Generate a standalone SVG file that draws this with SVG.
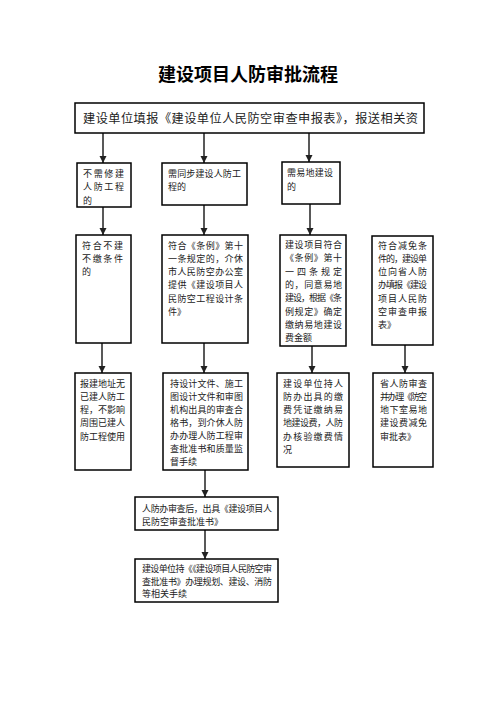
<svg xmlns="http://www.w3.org/2000/svg" width="496" height="702" viewBox="0 0 496 702">
<style>
.box{fill:#fff;stroke:#000;stroke-width:1.5}
.t{font-family:"Noto Sans CJK SC","Noto Sans",sans-serif;font-size:9px;fill:#222}
.big{font-family:"Noto Sans CJK SC","Noto Sans",sans-serif;font-size:12.2px;fill:#222}
.title{font-family:"Noto Sans CJK SC","Noto Sans",sans-serif;font-size:18px;font-weight:bold;fill:#000}
.ar{stroke:#222;stroke-width:1.5;fill:none;marker-end:url(#ah)}
</style>
<defs>
<marker id="ah" markerUnits="userSpaceOnUse" markerWidth="8" markerHeight="8" refX="7" refY="3.5" orient="auto">
<path d="M0,0 L7,3.5 L0,7 z" fill="#222"/>
</marker>
</defs>
<rect width="496" height="702" fill="#fff"/>
<text class="title" x="248" y="81" text-anchor="middle">建设项目人防审批流程</text>

<g id="connectors">
<line class="ar" x1="103" y1="133" x2="103" y2="163"/>
<line class="ar" x1="204" y1="133" x2="204" y2="163"/>
<line class="ar" x1="309" y1="133" x2="309" y2="162"/>
<line class="ar" x1="103" y1="207" x2="103" y2="235"/>
<line class="ar" x1="204" y1="205" x2="204" y2="235"/>
<line class="ar" x1="310" y1="204" x2="310" y2="235"/>
<line class="ar" x1="102" y1="343" x2="102" y2="373"/>
<line class="ar" x1="204" y1="343" x2="204" y2="373"/>
<line class="ar" x1="312" y1="346" x2="312" y2="373"/>
<line class="ar" x1="405" y1="345" x2="405" y2="373"/>
<line class="ar" x1="205" y1="470" x2="205" y2="497"/>
<line class="ar" x1="205" y1="530" x2="205" y2="559"/>
</g>

<g id="top">
<rect class="box" x="75" y="103" width="349" height="30"/>
<text class="big" x="83" y="122.5" textLength="335" lengthAdjust="spacing">建设单位填报《建设单位人民防空审查申报表》，报送相关资</text>
</g>

<g id="r2a">
<rect class="box" x="77" y="163" width="54" height="44"/>
<text class="t" x="83" y="176.5" textLength="41" lengthAdjust="spacing">不需修建</text>
<text class="t" x="83" y="190" textLength="41" lengthAdjust="spacing">人防工程</text>
<text class="t" x="83" y="203.5">的</text>
</g>
<g id="r2b">
<rect class="box" x="162" y="163" width="85" height="42"/>
<text class="t" x="168" y="176.5" textLength="73" lengthAdjust="spacing">需同步建设人防工</text>
<text class="t" x="168" y="190">程的</text>
</g>
<g id="r2c">
<rect class="box" x="282" y="162" width="58" height="42"/>
<text class="t" x="287" y="176" textLength="46" lengthAdjust="spacing">需易地建设</text>
<text class="t" x="287" y="189.5">的</text>
</g>

<g id="r3a">
<rect class="box" x="76" y="235" width="55" height="108"/>
<text class="t" x="82" y="248.5" textLength="41" lengthAdjust="spacing">符合不建</text>
<text class="t" x="82" y="261.8" textLength="41" lengthAdjust="spacing">不缴条件</text>
<text class="t" x="82" y="275.1">的</text>
</g>
<g id="r3b">
<rect class="box" x="162" y="235" width="86" height="108"/>
<text class="t" x="168" y="248.5" textLength="75" lengthAdjust="spacing">符合《条例》第十</text>
<text class="t" x="168" y="261.8" textLength="75" lengthAdjust="spacing">一条规定的，介休</text>
<text class="t" x="168" y="275.1" textLength="75" lengthAdjust="spacing">市人民防空办公室</text>
<text class="t" x="168" y="288.4" textLength="75" lengthAdjust="spacing">提供《建设项目人</text>
<text class="t" x="168" y="301.7" textLength="75" lengthAdjust="spacing">民防空工程设计条</text>
<text class="t" x="168" y="315">件》</text>
</g>
<g id="r3c">
<rect class="box" x="280" y="235" width="66" height="111"/>
<text class="t" x="285" y="248" textLength="57" lengthAdjust="spacing">建设项目符合</text>
<text class="t" x="285" y="261.3" textLength="57" lengthAdjust="spacing">《条例》第十</text>
<text class="t" x="285" y="274.6" textLength="57" lengthAdjust="spacing">一四条规定</text>
<text class="t" x="285" y="287.9" textLength="57" lengthAdjust="spacing">的，同意易地</text>
<text class="t" x="285" y="301.2" textLength="57" lengthAdjust="spacing">建设，根据《条</text>
<text class="t" x="285" y="314.5" textLength="57" lengthAdjust="spacing">例规定》确定</text>
<text class="t" x="285" y="327.8" textLength="57" lengthAdjust="spacing">缴纳易地建设</text>
<text class="t" x="285" y="341.1">费金额</text>
</g>
<g id="r3d">
<rect class="box" x="372" y="236" width="61" height="109"/>
<text class="t" x="378" y="248.5" textLength="49" lengthAdjust="spacing">符合减免条</text>
<text class="t" x="378" y="261.8" textLength="49" lengthAdjust="spacing">件的，建设单</text>
<text class="t" x="378" y="275.1" textLength="49" lengthAdjust="spacing">位向省人防</text>
<text class="t" x="378" y="288.4" textLength="49" lengthAdjust="spacing">办填报《建设</text>
<text class="t" x="378" y="301.7" textLength="49" lengthAdjust="spacing">项目人民防</text>
<text class="t" x="378" y="315" textLength="49" lengthAdjust="spacing">空审查申报</text>
<text class="t" x="378" y="328.3">表》</text>
</g>

<g id="r4a">
<rect class="box" x="75" y="373" width="56" height="97"/>
<text class="t" x="80" y="386.5" textLength="45" lengthAdjust="spacing">报建地址无</text>
<text class="t" x="80" y="399.8" textLength="45" lengthAdjust="spacing">已建人防工</text>
<text class="t" x="80" y="413.1" textLength="45" lengthAdjust="spacing">程，不影响</text>
<text class="t" x="80" y="426.4" textLength="45" lengthAdjust="spacing">周围已建人</text>
<text class="t" x="80" y="439.7" textLength="45" lengthAdjust="spacing">防工程使用</text>
</g>
<g id="r4b">
<rect class="box" x="163" y="373" width="85" height="97"/>
<text class="t" x="170" y="386.5" textLength="73" lengthAdjust="spacing">持设计文件、施工</text>
<text class="t" x="170" y="399.6" textLength="73" lengthAdjust="spacing">图设计文件和审图</text>
<text class="t" x="170" y="412.7" textLength="73" lengthAdjust="spacing">机构出具的审查合</text>
<text class="t" x="170" y="425.8" textLength="73" lengthAdjust="spacing">格书，到介休人防</text>
<text class="t" x="170" y="438.9" textLength="73" lengthAdjust="spacing">办办理人防工程审</text>
<text class="t" x="170" y="452" textLength="73" lengthAdjust="spacing">查批准书和质量监</text>
<text class="t" x="170" y="465.1">督手续</text>
</g>
<g id="r4c">
<rect class="box" x="277" y="373" width="72" height="94"/>
<text class="t" x="283" y="386.5" textLength="60" lengthAdjust="spacing">建设单位持人</text>
<text class="t" x="283" y="399.8" textLength="60" lengthAdjust="spacing">防办出具的缴</text>
<text class="t" x="283" y="413.1" textLength="60" lengthAdjust="spacing">费凭证缴纳易</text>
<text class="t" x="283" y="426.4" textLength="60" lengthAdjust="spacing">地建设费，人防</text>
<text class="t" x="283" y="439.7" textLength="60" lengthAdjust="spacing">办核验缴费情</text>
<text class="t" x="283" y="453">况</text>
</g>
<g id="r4d">
<rect class="box" x="373" y="373" width="60" height="94"/>
<text class="t" x="380" y="386.5" textLength="47" lengthAdjust="spacing">省人防审查</text>
<text class="t" x="380" y="399.8" textLength="47" lengthAdjust="spacing">并办理《防空</text>
<text class="t" x="380" y="413.1" textLength="47" lengthAdjust="spacing">地下室易地</text>
<text class="t" x="380" y="426.4" textLength="47" lengthAdjust="spacing">建设费减免</text>
<text class="t" x="380" y="439.7">审批表》</text>
</g>

<g id="e">
<rect class="box" x="135" y="497" width="143" height="33"/>
<text class="t" x="142" y="511.5" textLength="130" lengthAdjust="spacing">人防办审查后，出具《建设项目人</text>
<text class="t" x="142" y="524.5">民防空审查批准书》</text>
</g>
<g id="f">
<rect class="box" x="135" y="559" width="143" height="43"/>
<text class="t" x="142" y="571.5" textLength="130" lengthAdjust="spacing">建设单位持《《建设项目人民防空审</text>
<text class="t" x="142" y="584.5" textLength="130" lengthAdjust="spacing">查批准书》办理规划、建设、消防</text>
<text class="t" x="142" y="597">等相关手续</text>
</g>
</svg>
